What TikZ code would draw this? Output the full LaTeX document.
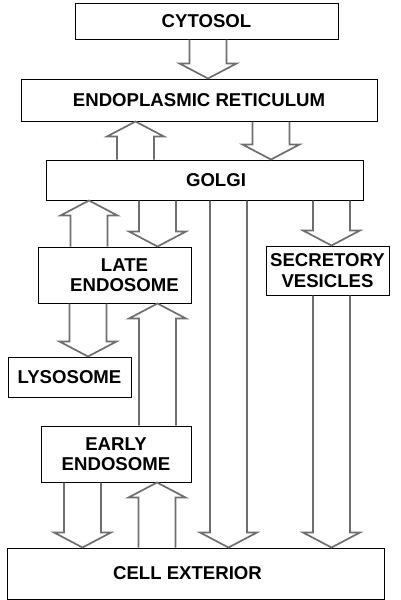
\documentclass[tikz,border=0pt]{standalone}
\usepackage{fontspec}
\setmainfont{Liberation Sans}
\usepackage{tikz}
\usetikzlibrary{calc,positioning}
\definecolor{flowgray}{HTML}{6E6E6E}

\tikzset{
  compbox/.style={draw=black, line width=1pt, fill=white, align=center,
    inner sep=0pt, font=\bfseries\fontsize{18.6}{20.5}\selectfont},
  flow/.style={draw=flowgray, line width=1.7pt, line join=miter}
}
\newcommand{\blockarrow}[2]{%
  \draw[flow] let \p1=(#1), \p2=(#2), \n1={ifthenelse(\y2>\y1,1,-1)} in
    (\x1-18.5pt,\y1) -- (\x1-18.5pt,\y2-\n1*15pt) -- (\x1-28.5pt,\y2-\n1*15pt)
    -- (\x2,\y2) -- (\x1+28.5pt,\y2-\n1*15pt) -- (\x1+18.5pt,\y2-\n1*15pt)
    -- (\x1+18.5pt,\y1);}

\begin{document}
\begin{tikzpicture}[x=1pt, y=-1pt]
  \useasboundingbox (0,0) rectangle (400,600);

  \node[compbox, minimum width=263pt, minimum height=36pt] (cytosol) at (206.5,21) {CYTOSOL};
  \node[compbox, minimum width=356pt, minimum height=42pt] (er) at (199,100) {ENDOPLASMIC RETICULUM};
  \node[compbox, minimum width=317pt, minimum height=40pt] (golgi) at (204.5,180) {\hspace*{23pt}GOLGI};
  \node[compbox, minimum width=153pt, minimum height=56pt] (late) at (114.5,275)
    {\hspace*{20pt}LATE\\\hspace*{20pt}ENDOSOME};
  \node[compbox, minimum width=123pt, minimum height=49pt] (secretory) at (327.5,270.5)
    {SECRETORY\\VESICLES};
  \node[compbox, minimum width=123pt, minimum height=40pt] (lysosome) at (69.5,377) {LYSOSOME};
  \node[compbox, minimum width=150pt, minimum height=56pt] (early) at (116,454) {EARLY\\ENDOSOME};
  \node[compbox, minimum width=377pt, minimum height=51pt] (cell) at (195.5,573.5) {CELL EXTERIOR\hspace*{16pt}};

  \blockarrow{208,0 |- cytosol.south}{208,0 |- er.north}
  \blockarrow{135.5,0 |- golgi.north}{135.5,0 |- er.south}
  \blockarrow{271,0 |- er.south}{271,0 |- golgi.north}
  \blockarrow{89,0 |- late.north}{89,0 |- golgi.south}
  \blockarrow{157.5,0 |- golgi.south}{157.5,0 |- late.north}
  \blockarrow{228.5,0 |- golgi.south}{228.5,0 |- cell.north}
  \blockarrow{331.5,0 |- golgi.south}{331.5,0 |- secretory.north}
  \blockarrow{331.5,0 |- secretory.south}{331.5,0 |- cell.north}
  \blockarrow{88,0 |- late.south}{88,0 |- lysosome.north}
  \blockarrow{157.5,0 |- early.north}{157.5,0 |- late.south}
  \blockarrow{82.5,0 |- early.south}{82.5,0 |- cell.north}
  \blockarrow{157,0 |- cell.north}{157,0 |- early.south}
\end{tikzpicture}
\end{document}
